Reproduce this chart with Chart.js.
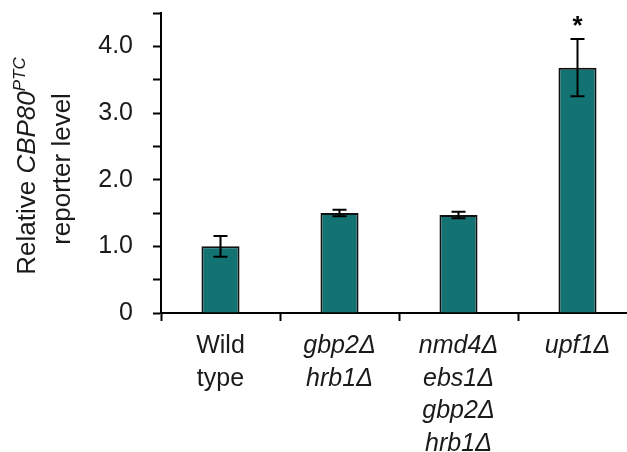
<!DOCTYPE html>
<html>
<head>
<meta charset="utf-8">
<script src="https://cdn.jsdelivr.net/npm/chart.js@4/dist/chart.umd.min.js"></script>
<style>
html,body{margin:0;padding:0;background:#fff;overflow:hidden;width:627px;height:452px;}
#wrap{position:absolute;left:0;top:0;width:640px;height:452px;}
</style>
</head>
<body>
<div id="wrap"><canvas id="c" width="640" height="452"></canvas></div>
<script>
const categories = [["Wild","type"],["gbp2Δ","hrb1Δ"],["nmd4Δ","ebs1Δ","gbp2Δ","hrb1Δ"],["upf1Δ"]];
const italicCategory = [false, true, true, true];
const values = [1.00, 1.50, 1.47, 3.68];
const errors = [0.155, 0.05, 0.05, 0.43];
const significant = [false, false, false, true];
const yTickLabels = {0:"0",1:"1.0",2:"2.0",3:"3.0",4:"4.0"};

const FONT = "'Liberation Sans', Arial, sans-serif";
const TEAL = "#137272";

const extras = {
  id: 'extras',
  afterDatasetsDraw(chart) {
    const ctx = chart.ctx;
    const meta = chart.getDatasetMeta(0);
    const y = chart.scales.y;
    ctx.save();
    ctx.strokeStyle = '#000';
    ctx.lineWidth = 2;
    meta.data.forEach((bar, i) => {
      const x = bar.x;
      const top = y.getPixelForValue(values[i] + errors[i]);
      const bot = y.getPixelForValue(values[i] - errors[i]);
      ctx.beginPath();
      ctx.moveTo(x, top); ctx.lineTo(x, bot);
      ctx.moveTo(x - 7, top); ctx.lineTo(x + 7, top);
      ctx.moveTo(x - 7, bot); ctx.lineTo(x + 7, bot);
      ctx.stroke();
      if (significant[i]) {
        ctx.fillStyle = '#000';
        ctx.font = "bold 26px " + FONT;
        ctx.textAlign = 'center';
        ctx.textBaseline = 'alphabetic';
        ctx.fillText('*', x, top - 5);
      }
    });
    ctx.restore();
  },
  afterDraw(chart) {
    const ctx = chart.ctx;
    ctx.save();
    ctx.fillStyle = '#1a1a1a';
    const fN = "26px " + FONT, fI = "italic 26px " + FONT, fS = "italic 17px " + FONT;
    // line 1
    ctx.save();
    ctx.translate(35, 166);
    ctx.rotate(-Math.PI / 2);
    ctx.textBaseline = 'alphabetic';
    const parts = [["Relative ", fN, 0], ["CBP80", fI, 0], ["PTC", fS, -10]];
    let total = 0;
    parts.forEach(p => { ctx.font = p[1]; total += ctx.measureText(p[0]).width; });
    let x0 = -total / 2;
    parts.forEach(p => { ctx.font = p[1]; ctx.fillText(p[0], x0, p[2]); x0 += ctx.measureText(p[0]).width; });
    ctx.restore();
    // line 2
    ctx.save();
    ctx.translate(70, 169);
    ctx.rotate(-Math.PI / 2);
    ctx.font = fN;
    ctx.textAlign = 'center';
    ctx.textBaseline = 'alphabetic';
    ctx.fillText("reporter level", 0, 0);
    ctx.restore();
    ctx.restore();
  }
};

new Chart(document.getElementById('c'), {
  type: 'bar',
  data: {
    labels: categories,
    datasets: [{
      data: values,
      backgroundColor: TEAL,
      borderColor: '#111',
      borderWidth: 2,
      borderSkipped: 'bottom',
      barPercentage: 0.32,
      categoryPercentage: 1.0
    }]
  },
  options: {
    responsive: false,
    animation: false,
    events: [],
    layout: { padding: { left: 0, top: 13, right: 3, bottom: 0 } },
    plugins: { legend: { display: false }, tooltip: { enabled: false } },
    scales: {
      x: {
        offset: true,
        grid: { display: true, drawOnChartArea: false, drawTicks: true, tickLength: 8, tickWidth: 2, tickColor: '#000', offset: true },
        border: { display: true, color: '#000', width: 2 },
        ticks: {
          color: '#1a1a1a',
          padding: 9,
          maxRotation: 0,
          autoSkip: false,
          font: (c) => ({ family: FONT, size: 25, style: italicCategory[c.index] ? 'italic' : 'normal', lineHeight: 1.3 })
        },
        afterFit(s) { s.height = 139; s.paddingLeft = 0; s.paddingRight = 0; }
      },
      y: {
        min: 0, max: 4.5,
        grid: { display: true, drawOnChartArea: false, drawTicks: true, tickLength: 8, tickWidth: 2, tickColor: '#000' },
        border: { display: true, color: '#000', width: 2 },
        ticks: {
          stepSize: 0.5,
          autoSkip: false,
          color: '#1a1a1a',
          padding: 20,
          font: { family: FONT, size: 25 },
          callback: (v) => (yTickLabels[v] !== undefined ? yTickLabels[v] : '')
        },
        afterFit(s) { s.width = 161; s.paddingTop = 0; s.paddingBottom = 0; }
      }
    }
  },
  plugins: [extras]
});
</script>
</body>
</html>
